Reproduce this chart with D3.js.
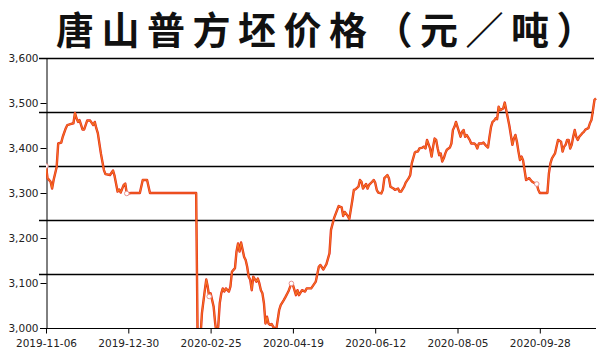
<!DOCTYPE html>
<html>
<head>
<meta charset="utf-8">
<script src="https://cdn.jsdelivr.net/npm/d3@7/dist/d3.min.js"></script>
<style>
  html, body { margin: 0; padding: 0; background: #fff; }
  svg { display: block; }
</style>
</head>
<body>
<svg id="chart" width="600" height="360"></svg>
<script>
const title = "唐山普方坯价格（元／吨）";

const dates = [
"2019-11-06","2019-11-07","2019-11-09","2019-11-10","2019-11-11","2019-11-13","2019-11-14","2019-11-16","2019-11-17","2019-11-19",
"2019-11-20","2019-11-22","2019-11-24","2019-11-25","2019-11-26","2019-11-27","2019-11-28","2019-11-30","2019-12-01","2019-12-03",
"2019-12-05","2019-12-07","2019-12-08","2019-12-09","2019-12-10","2019-12-12","2019-12-14","2019-12-15","2019-12-18","2019-12-20",
"2019-12-21","2019-12-23","2019-12-24","2019-12-25","2019-12-27","2019-12-28","2019-12-29","2020-01-01","2020-01-07","2020-01-09",
"2020-01-12","2020-01-14","2020-02-15","2020-02-16","2020-02-18","2020-02-19","2020-02-21","2020-02-22","2020-02-23","2020-02-24",
"2020-02-25","2020-02-27","2020-02-28","2020-02-29","2020-03-01","2020-03-02","2020-03-03","2020-03-04","2020-03-05","2020-03-06",
"2020-03-08","2020-03-09","2020-03-10","2020-03-12","2020-03-13","2020-03-14","2020-03-15","2020-03-16","2020-03-18","2020-03-19",
"2020-03-20","2020-03-21","2020-03-22","2020-03-23","2020-03-24","2020-03-26","2020-03-27","2020-03-28","2020-03-29","2020-03-30",
"2020-03-31","2020-04-01","2020-04-02","2020-04-03","2020-04-04","2020-04-05","2020-04-06","2020-04-08","2020-04-10","2020-04-11",
"2020-04-13","2020-04-14","2020-04-16","2020-04-18","2020-04-19","2020-04-21","2020-04-22","2020-04-23","2020-04-25","2020-04-27",
"2020-04-28","2020-05-01","2020-05-04","2020-05-06","2020-05-07","2020-05-09","2020-05-11","2020-05-13","2020-05-14","2020-05-16",
"2020-05-18","2020-05-19","2020-05-21","2020-05-22","2020-05-23","2020-05-25","2020-05-26","2020-05-28","2020-05-29","2020-05-30",
"2020-06-01","2020-06-02","2020-06-03","2020-06-04","2020-06-06","2020-06-07","2020-06-08","2020-06-10","2020-06-11","2020-06-12",
"2020-06-13","2020-06-14","2020-06-16","2020-06-17","2020-06-18","2020-06-20","2020-06-21","2020-06-22","2020-06-24","2020-06-25",
"2020-06-27","2020-06-28","2020-06-29","2020-07-01","2020-07-02","2020-07-04","2020-07-05","2020-07-06","2020-07-08","2020-07-09",
"2020-07-10","2020-07-11","2020-07-13","2020-07-14","2020-07-15","2020-07-16","2020-07-18","2020-07-19","2020-07-20","2020-07-21",
"2020-07-22","2020-07-23","2020-07-24","2020-07-25","2020-07-26","2020-07-27","2020-07-28","2020-07-29","2020-07-31","2020-08-01",
"2020-08-02","2020-08-03","2020-08-04","2020-08-05","2020-08-07","2020-08-08","2020-08-09","2020-08-10","2020-08-11","2020-08-13",
"2020-08-14","2020-08-16","2020-08-17","2020-08-18","2020-08-19","2020-08-21","2020-08-22","2020-08-24","2020-08-25","2020-08-26",
"2020-08-27","2020-08-28","2020-08-29","2020-08-30","2020-08-31","2020-09-01","2020-09-02","2020-09-04","2020-09-05","2020-09-06",
"2020-09-08","2020-09-09","2020-09-10","2020-09-11","2020-09-12","2020-09-13","2020-09-14","2020-09-15","2020-09-16","2020-09-17",
"2020-09-18","2020-09-19","2020-09-21","2020-09-22","2020-09-23","2020-09-25","2020-09-26","2020-09-27","2020-09-28","2020-10-03",
"2020-10-04","2020-10-05","2020-10-06","2020-10-08","2020-10-09","2020-10-10","2020-10-12","2020-10-13","2020-10-14","2020-10-15",
"2020-10-16","2020-10-17","2020-10-18","2020-10-19","2020-10-20","2020-10-21","2020-10-22","2020-10-23","2020-10-24","2020-10-26",
"2020-10-27","2020-10-28","2020-10-30","2020-10-31","2020-11-01","2020-11-02","2020-11-03","2020-11-04"
];

const prices = [
3360,3333,3325,3310,3329,3358,3410,3412,3425,3444,
3451,3453,3455,3478,3466,3458,3462,3441,3441,3461,
3461,3451,3458,3444,3433,3388,3351,3342,3340,3350,
3338,3303,3308,3301,3318,3321,3299,3300,3300,3329,
3329,3300,3300,2980,2980,3033,3084,3108,3092,3070,
3077,3047,3011,2985,3003,3055,3077,3088,3081,3088,
3081,3092,3125,3133,3170,3188,3170,3190,3158,3151,
3136,3114,3107,3084,3114,3103,3110,3099,3084,3077,
3055,3010,3025,3010,3007,3009,3003,2995,3040,3051,
3062,3068,3081,3099,3096,3073,3084,3073,3084,3081,
3088,3088,3103,3136,3140,3130,3142,3166,3218,3244,
3262,3271,3268,3249,3258,3249,3242,3284,3307,3308,
3314,3329,3325,3310,3320,3310,3318,3325,3329,3323,
3307,3301,3299,3307,3333,3340,3333,3314,3310,3307,
3310,3303,3303,3314,3323,3333,3340,3366,3390,3392,
3392,3399,3401,3403,3399,3418,3399,3381,3403,3421,
3418,3399,3384,3388,3370,3377,3388,3396,3401,3410,
3440,3447,3458,3447,3425,3436,3440,3425,3429,3418,
3410,3410,3407,3399,3410,3410,3412,3404,3401,3425,
3447,3458,3461,3466,3464,3492,3484,3488,3501,3484,
3450,3429,3407,3421,3429,3414,3392,3373,3381,3373,
3351,3329,3333,3329,3325,3321,3320,3307,3300,3300,
3344,3366,3377,3388,3403,3418,3414,3392,3403,3407,
3418,3418,3399,3407,3425,3440,3425,3418,3425,3433,
3436,3441,3444,3455,3462,3484,3507,3510
];

const markerDates = ["2019-11-06","2019-12-29","2020-02-24","2020-04-18","2020-09-26"];

const xTickLabels = ["2019-11-06","2019-12-30","2020-02-25","2020-04-19","2020-06-12","2020-08-05","2020-09-28"];
const xEndDate = "2020-11-04";
const yTicks = [3000,3100,3200,3300,3400,3500,3600];
const gridValues = [3120,3240,3360,3480,3600];

const parse = d3.timeParse("%Y-%m-%d");
const data = dates.map((d, i) => ({ date: parse(d), value: prices[i] }));

const svg = d3.select("#chart");
const mLeft = 46, mRight = 596, mTop = 58, mBottom = 328;
const step = 82.3;

// piecewise time scale so labels sit at equal spacing like the original category axis
const xDomain = xTickLabels.map(parse).concat([parse(xEndDate)]);
const xRange = xTickLabels.map((d, i) => mLeft + step * i).concat([mRight]);
const x = d3.scaleTime().domain(xDomain).range(xRange);
const y = d3.scaleLinear().domain([3000, 3600]).range([mBottom, mTop]);

// title (letter-spaced, last glyph without trailing spacing)
const titleChars = Array.from(title);
const tt = svg.append("text")
  .attr("x", 56).attr("y", 44)
  .attr("text-anchor", "start")
  .attr("font-family", "'Noto Sans CJK SC', sans-serif")
  .attr("font-weight", 700)
  .attr("font-size", 38)
  .attr("fill", "#111");
tt.append("tspan").attr("letter-spacing", 7.5).text(titleChars.slice(0, -1).join(""));
tt.append("tspan").attr("letter-spacing", 0).text(titleChars.slice(-1).join(""));

// grid lines
svg.append("g").selectAll("line").data(gridValues).join("line")
  .attr("x1", mLeft - 7).attr("x2", mRight - 2)
  .attr("y1", d => Math.round(y(d)) + 0.5).attr("y2", d => Math.round(y(d)) + 0.5)
  .attr("stroke", "#000").attr("stroke-width", 1.3);

// y axis
const yAxis = d3.axisLeft(y).tickValues(yTicks).tickSize(6).tickPadding(2)
  .tickFormat(d3.format(","));
const gy = svg.append("g").attr("transform", `translate(${mLeft + 0.5},0)`).call(yAxis);
gy.select(".domain").attr("stroke", "#000");
gy.selectAll(".tick line").attr("stroke", "#000");
gy.selectAll(".tick text").attr("font-family", "'DejaVu Sans', sans-serif")
  .attr("font-size", 10.5).attr("fill", "#222");

// x axis
const xAxis = d3.axisBottom(x).tickValues(xTickLabels.map(parse)).tickSize(5).tickPadding(6)
  .tickFormat(d3.timeFormat("%Y-%m-%d"));
const gx = svg.append("g").attr("transform", `translate(0,${mBottom + 0.5})`).call(xAxis);
gx.select(".domain").attr("stroke", "#000").attr("d", `M${mLeft - 6},0H${mRight}`);
gx.selectAll(".tick line").attr("stroke", "#000");
gx.selectAll(".tick text").attr("font-family", "'DejaVu Sans', sans-serif")
  .attr("font-size", 10.5).attr("fill", "#222");

// clip
svg.append("clipPath").attr("id", "plotclip").append("rect")
  .attr("x", mLeft).attr("y", mTop - 5).attr("width", mRight - mLeft + 4).attr("height", mBottom - mTop + 5);

const line = d3.line().x(d => x(d.date)).y(d => y(d.value));
const g = svg.append("g").attr("clip-path", "url(#plotclip)");
g.append("path").datum(data).attr("d", line)
  .attr("fill", "none").attr("stroke", "#e42a1c").attr("stroke-width", 2.4)
  .attr("stroke-linejoin", "round");
g.append("path").datum(data).attr("d", line)
  .attr("fill", "none").attr("stroke", "#f57a22").attr("stroke-width", 1.2)
  .attr("stroke-linejoin", "round").attr("opacity", 0.9);

// hollow markers
const markerSet = new Set(markerDates);
g.selectAll("circle").data(data.filter((d, i) => markerSet.has(dates[i]))).join("circle")
  .attr("cx", d => x(d.date)).attr("cy", d => y(d.value)).attr("r", 2.3)
  .attr("fill", "#fff").attr("stroke", "#e89090").attr("stroke-width", 1);
</script>
</body>
</html>
